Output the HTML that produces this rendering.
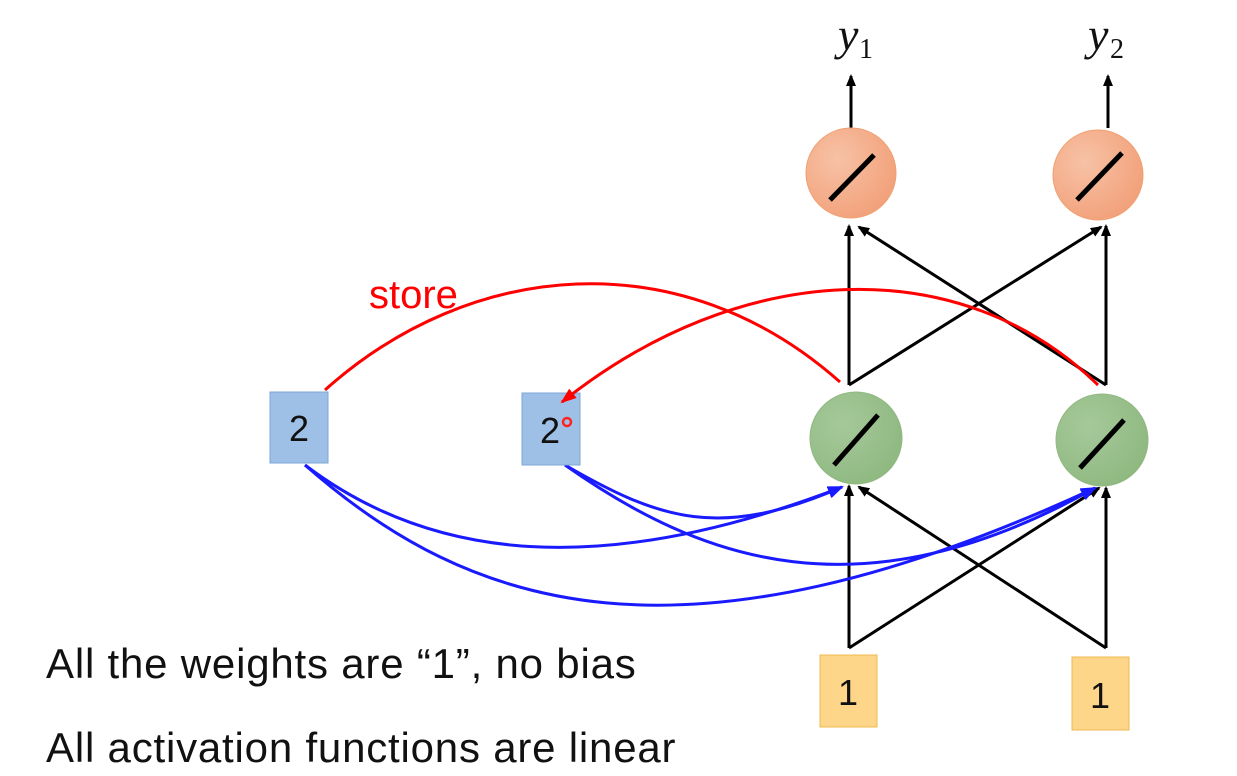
<!DOCTYPE html>
<html><head><style>
body{margin:0;width:1237px;height:776px;background:#fff;overflow:hidden;position:relative;font-family:"Liberation Sans",sans-serif}
.t{position:absolute;left:46px;font-size:42px;letter-spacing:0.8px;color:#111;white-space:nowrap}
</style></head><body>
<svg width="1237" height="776" style="position:absolute;left:0;top:0">
<defs>
<marker id="ak" markerWidth="12" markerHeight="12" refX="10" refY="6" orient="auto" markerUnits="userSpaceOnUse"><path d="M0,1 L12,6 L0,11 z" fill="#000"/></marker>
<marker id="ab" markerWidth="16" markerHeight="12" refX="14" refY="6" orient="auto" markerUnits="userSpaceOnUse"><path d="M0,0 L16,6 L0,12 z" fill="#1a1aff"/></marker>
<marker id="ar" markerWidth="16" markerHeight="12" refX="14" refY="6" orient="auto" markerUnits="userSpaceOnUse"><path d="M0,0 L16,6 L0,12 z" fill="#f00"/></marker>
<radialGradient id="go" cx="0.35" cy="0.35" r="0.7"><stop offset="0" stop-color="#f7c2a6"/><stop offset="1" stop-color="#f2a17a"/></radialGradient>
<radialGradient id="gg" cx="0.35" cy="0.35" r="0.7"><stop offset="0" stop-color="#a6c99a"/><stop offset="1" stop-color="#8fb981"/></radialGradient>
</defs>
<g stroke="#000" stroke-width="3" fill="none">
<line x1="851" y1="128" x2="851" y2="76" marker-end="url(#ak)"/>
<line x1="1108" y1="128" x2="1108" y2="76" marker-end="url(#ak)"/>
<line x1="849" y1="385" x2="849" y2="226" marker-end="url(#ak)"/>
<line x1="849" y1="385" x2="1101" y2="227" marker-end="url(#ak)"/>
<line x1="1106" y1="385" x2="1106" y2="226" marker-end="url(#ak)"/>
<line x1="1106" y1="385" x2="859" y2="227" marker-end="url(#ak)"/>
<line x1="849" y1="648" x2="849" y2="486" marker-end="url(#ak)"/>
<line x1="849" y1="648" x2="1099" y2="488" marker-end="url(#ak)"/>
<line x1="1106" y1="648" x2="1106" y2="488" marker-end="url(#ak)"/>
<line x1="1106" y1="648" x2="859" y2="487" marker-end="url(#ak)"/>
</g>
<g stroke="#1a1aff" stroke-width="3" fill="none">
<path d="M305,465 C430,560 600,580 842,487" marker-end="url(#ab)"/>
<path d="M305,465 C470,610 680,680 1095,488" marker-end="url(#ab)"/>
<path d="M565,465 C660,520 720,540 842,487" marker-end="url(#ab)"/>
<path d="M565,465 C700,560 860,620 1095,488" marker-end="url(#ab)"/>
</g>
<circle cx="851" cy="173" r="45" fill="url(#go)" stroke="#f0a070"/>
<circle cx="1098" cy="175" r="45" fill="url(#go)" stroke="#f0a070"/>
<circle cx="856" cy="438" r="46" fill="url(#gg)" stroke="#90b880"/>
<circle cx="1102" cy="440" r="46" fill="url(#gg)" stroke="#90b880"/>
<g stroke="#000" stroke-width="5">
<line x1="830" y1="200" x2="874" y2="155"/>
<line x1="1077" y1="200" x2="1122" y2="153"/>
<line x1="834" y1="465" x2="878" y2="415"/>
<line x1="1080" y1="468" x2="1124" y2="420"/>
</g>
<rect x="270" y="392" width="58" height="71" fill="#9fc0e6" stroke="#7ea6d6"/>
<rect x="522" y="393" width="58" height="72" fill="#9fc0e6" stroke="#7ea6d6"/>
<rect x="820" y="655" width="57" height="72" fill="#fdd68a" stroke="#f0b850"/>
<rect x="1072" y="657" width="57" height="73" fill="#fdd68a" stroke="#f0b850"/>
<g stroke="#f00" stroke-width="3" fill="none">
<path d="M325,390 C470,260 680,240 840,382"/>
<path d="M1098,385 C960,250 740,260 562,402" marker-end="url(#ar)"/>
</g>
<circle cx="567" cy="422" r="4" fill="none" stroke="#f22" stroke-width="2.5"/>
<g font-family="Liberation Sans" font-size="36" fill="#111" text-anchor="middle">
<text x="299" y="441">2</text><text x="550" y="443">2</text>
<text x="848" y="705">1</text><text x="1100" y="708">1</text>
</g>
<text x="369" y="308" font-size="40" fill="#f00" font-family="Liberation Sans">store</text>
<g font-family="Liberation Serif" font-style="italic" font-size="46" fill="#111">
<text x="838" y="50">y</text><text x="1088" y="50">y</text></g>
<g font-family="Liberation Serif" font-size="28" fill="#111">
<text x="859" y="58">1</text><text x="1110" y="58">2</text></g>
</svg>
<div class="t" style="top:640px">All the weights are “1”, no bias</div>
<div class="t" style="top:724px">All activation functions are linear</div>
</body></html>
